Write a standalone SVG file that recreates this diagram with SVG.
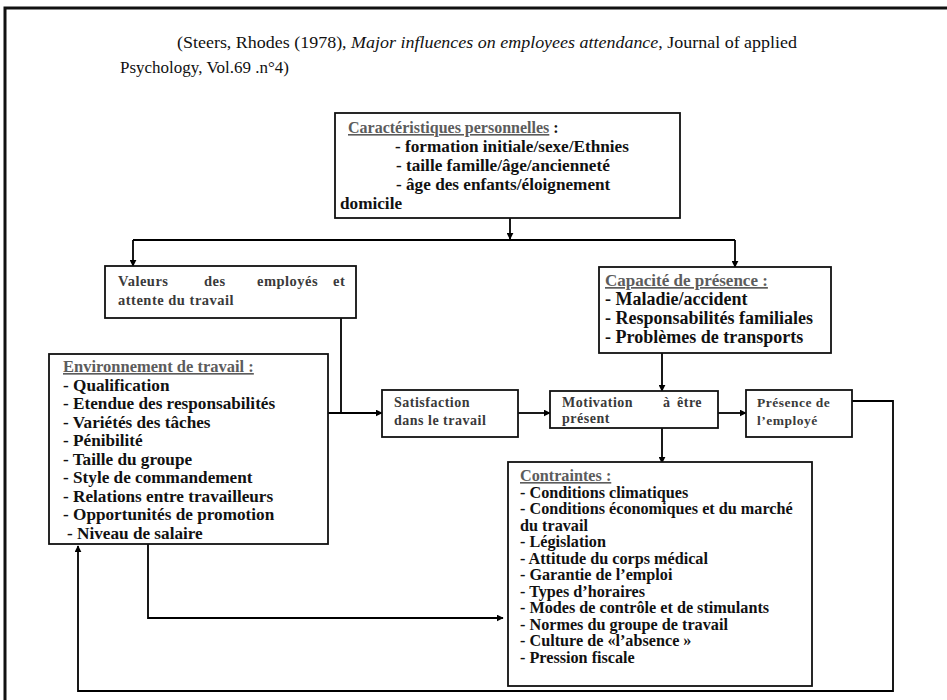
<svg xmlns="http://www.w3.org/2000/svg" width="947" height="700" viewBox="0 0 947 700" font-family="'Liberation Serif','Times New Roman',serif">
<defs>
<marker id="ah" viewBox="0 0 10 10" refX="9" refY="5" markerWidth="7" markerHeight="7" orient="auto" markerUnits="userSpaceOnUse">
<path d="M0,0 L10,5 L0,10 z" fill="#000"/>
</marker>
<style>
.box{fill:#fff;stroke:#111;stroke-width:1.8}
.t{font-family:"Liberation Serif","Times New Roman",serif;fill:#111}
.b{font-weight:bold}
.h{fill:#5c5c5c;text-decoration:underline}
.g{font-family:"Liberation Serif","Times New Roman",serif;font-weight:bold;fill:#3a3a3a;letter-spacing:0.5px}
.c{fill:none;stroke:#000;stroke-width:1.8}
.ca{fill:none;stroke:#000;stroke-width:1.8;marker-end:url(#ah)}
</style>
</defs>
<rect x="0" y="0" width="947" height="700" fill="#fff"/>
<g id="frame">
<path d="M5,700 L5,8 L947,8" fill="none" stroke="#111" stroke-width="3"/>
</g>
<g id="title" class="t">
<text x="177" y="48" font-size="17" textLength="620" lengthAdjust="spacingAndGlyphs">(Steers, Rhodes (1978), <tspan font-style="italic">Major influences on employees attendance</tspan>, Journal of applied</text>
<text x="120" y="73" font-size="17">Psychology, Vol.69 .n°4)</text>
</g>
<g id="connectors">
<path class="ca" d="M510,218 L510,239"/>
<path class="c" d="M133,240 L735,240"/>
<path class="ca" d="M133,240 L133,266"/>
<path class="ca" d="M735,240 L735,267"/>
<path class="c" d="M341,318 L341,413"/>
<path class="ca" d="M328,413 L382,413"/>
<path class="ca" d="M518,413 L550,413"/>
<path class="ca" d="M718,413 L746,413"/>
<path class="ca" d="M662,353 L662,391"/>
<path class="ca" d="M662,428 L662,463"/>
<path class="ca" d="M148,544 L148,618 L503,618"/>
<path class="ca" stroke-width="2.6" d="M852,401 L893,401 L893,691 L78,691 L78,546"/>
</g>
<g id="caracteristiques">
<rect class="box" x="335" y="113" width="345" height="105"/>
<text class="t b" font-size="16" x="348" y="133"><tspan class="h">Caractéristiques personnelles</tspan> :</text>
<text class="t b" font-size="17.2" x="395" y="152">- formation initiale/sexe/Ethnies</text>
<text class="t b" font-size="17.2" x="396" y="171">- taille famille/âge/ancienneté</text>
<text class="t b" font-size="17.2" x="396" y="190">- âge des enfants/éloignement</text>
<text class="t b" font-size="17.2" x="340" y="209">domicile</text>
</g>
<g id="valeurs">
<rect class="box" x="105" y="266" width="251" height="52"/>
<text class="g" font-size="14.5" y="286"><tspan x="118">Valeurs</tspan><tspan x="204">des</tspan><tspan x="257">employés</tspan><tspan x="333">et</tspan></text>
<text class="g" font-size="14.5" x="118" y="305">attente du travail</text>
</g>
<g id="capacite">
<rect class="box" x="599" y="267" width="232" height="86"/>
<text class="t b h" font-size="17" x="605" y="286">Capacité de présence :</text>
<text class="t b" font-size="18" x="605" y="305">- Maladie/accident</text>
<text class="t b" font-size="18" x="605" y="324">- Responsabilités familiales</text>
<text class="t b" font-size="18" x="605" y="343">- Problèmes de transports</text>
</g>
<g id="environnement">
<rect class="box" x="49" y="354" width="279" height="190"/>
<text class="t b h" font-size="16.5" x="63" y="372">Environnement de travail :</text>
<text class="t b" font-size="17.2" x="63" y="390.5">- Qualification</text>
<text class="t b" font-size="17.2" x="63" y="409">- Etendue des responsabilités</text>
<text class="t b" font-size="17.2" x="63" y="427.5">- Variétés des tâches</text>
<text class="t b" font-size="17.2" x="63" y="446">- Pénibilité</text>
<text class="t b" font-size="17.2" x="63" y="464.5">- Taille du groupe</text>
<text class="t b" font-size="17.2" x="63" y="483">- Style de commandement</text>
<text class="t b" font-size="17.2" x="63" y="501.5">- Relations entre travailleurs</text>
<text class="t b" font-size="17.2" x="63" y="520">- Opportunités de promotion</text>
<text class="t b" font-size="17.2" x="67" y="538.5">- Niveau de salaire</text>
</g>
<g id="satisfaction">
<rect class="box" x="382" y="390" width="136" height="47"/>
<text class="g" font-size="14" x="394" y="407">Satisfaction</text>
<text class="g" font-size="14" x="394" y="425">dans le travail</text>
</g>
<g id="motivation">
<rect class="box" x="550" y="391" width="168" height="37"/>
<text class="g" font-size="14" y="407"><tspan x="562">Motivation</tspan><tspan x="663">à</tspan><tspan x="677">être</tspan></text>
<text class="g" font-size="14" x="562" y="423">présent</text>
</g>
<g id="presence">
<rect class="box" x="746" y="390" width="106" height="47"/>
<text class="g" font-size="13.5" x="757" y="407" fill="#555">Présence de</text>
<text class="g" font-size="13.5" x="757" y="425" fill="#555">l’employé</text>
</g>
<g id="contraintes">
<rect class="box" x="508" y="462" width="304" height="224"/>
<text class="t b h" font-size="16.2" x="520" y="481">Contraintes :</text>
<text class="t b" font-size="16.2" x="520" y="497.5">- Conditions climatiques</text>
<text class="t b" font-size="16.2" x="520" y="514">- Conditions économiques et du marché</text>
<text class="t b" font-size="16.2" x="520" y="530.5">du travail</text>
<text class="t b" font-size="16.2" x="520" y="547">- Législation</text>
<text class="t b" font-size="16.2" x="520" y="563.5">- Attitude du corps médical</text>
<text class="t b" font-size="16.2" x="520" y="580">- Garantie de l’emploi</text>
<text class="t b" font-size="16.2" x="520" y="596.5">- Types d’horaires</text>
<text class="t b" font-size="16.2" x="520" y="613">- Modes de contrôle et de stimulants</text>
<text class="t b" font-size="16.2" x="520" y="629.5">- Normes du groupe de travail</text>
<text class="t b" font-size="16.2" x="520" y="646">- Culture de «l’absence »</text>
<text class="t b" font-size="16.2" x="520" y="662.5">- Pression fiscale</text>
</g>
</svg>
